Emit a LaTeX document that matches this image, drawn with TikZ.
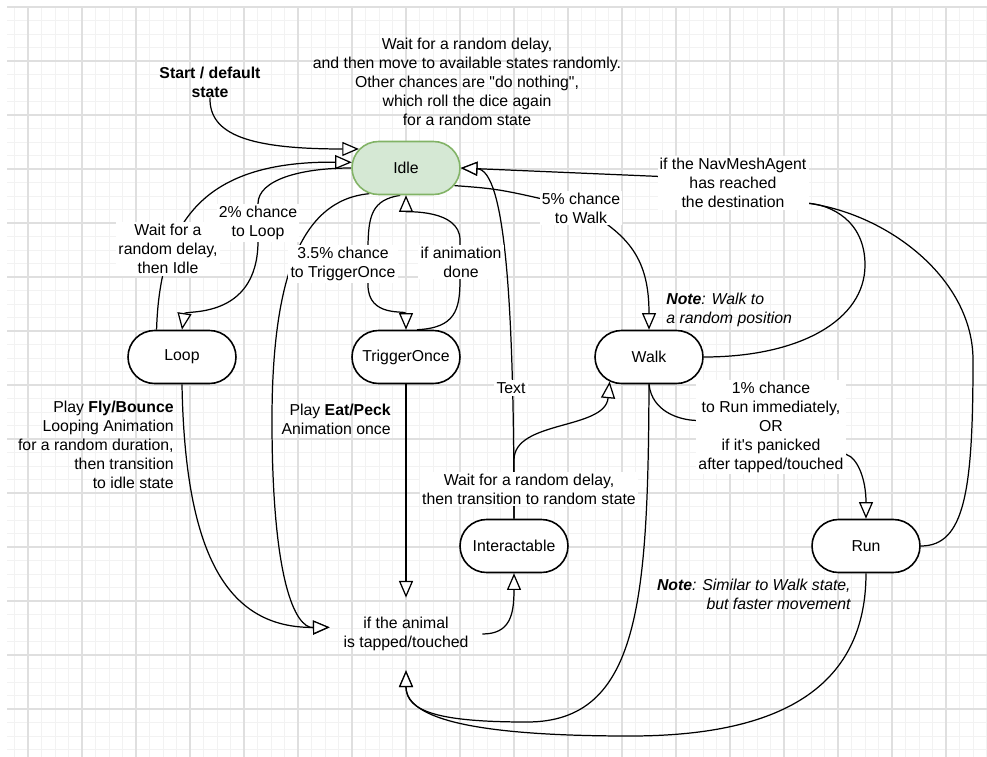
\documentclass[tikz,border=0pt]{standalone}
\usepackage{fontspec}
\setmainfont{Liberation Sans}
\usetikzlibrary{arrows.meta,shapes.misc}
\pgfdeclarelayer{gridlayer}
\pgfdeclarelayer{edgelayer}
\pgfsetlayers{gridlayer,edgelayer,main}
\definecolor{idlefill}{HTML}{D5E8D4}
\definecolor{idleline}{HTML}{82B366}
\tikzset{
  statebox/.style={rounded rectangle,draw=black,line width=0.9pt,fill=white,
    minimum width=2.16cm,minimum height=1.06cm,inner sep=0pt},
  idlebox/.style={statebox,fill=idlefill,draw=idleline},
  lbl/.style={fill=white,inner sep=1.2pt,align=center},
  txt/.style={inner sep=0pt},
  trans/.style={line width=0.7pt,-{Triangle[length=9.5pt,width=8pt,fill=white]}},
  plain/.style={line width=0.7pt},
  gridminor/.style={gray!10,line width=0.5pt},
  gridmajor/.style={gray!25,line width=0.6pt},
}
\newcommand{\smallfont}{\fontsize{9}{10.8}\selectfont}
\begin{document}
\begin{tikzpicture}[x=0.02cm,y=-0.02cm,every node/.style={font=\smallfont}]
\useasboundingbox (0,0) rectangle (987,757);
\begin{pgfonlayer}{gridlayer}
\fill[white] (0,0) rectangle (987,757);
\foreach \i in {1,...,73} \draw[gridminor] ({1+13.5*\i},7) -- ({1+13.5*\i},757);
\foreach \j in {0,...,55} \draw[gridminor] (7,{7+13.5*\j}) -- (987,{7+13.5*\j});
\foreach \i in {0,...,17} \draw[gridmajor] ({28+54*\i},7) -- ({28+54*\i},757);
\foreach \j in {0,...,13} \draw[gridmajor] (7,{7+54*\j}) -- (987,{7+54*\j});
\end{pgfonlayer}

\node[idlebox] (idle) at (406,168) {Idle};
\node[statebox] (loop) at (182,357) {Loop};
\node[statebox] (trig) at (406,357) {TriggerOnce};
\node[statebox] (walk) at (649,357) {Walk};
\node[statebox] (inter) at (514,546) {Interactable};
\node[statebox] (run) at (866,546) {Run};
\node[txt,align=center,minimum width=3.04cm,minimum height=1.44cm] (tap) at (406,634) {if the animal\\is tapped/touched};

\node[txt,align=center,font=\smallfont\bfseries] (start) at (210,82) {Start / default\\state};
\node[txt,align=center] (idlenote) at (467,82) {Wait for a random delay,\\and then move to available states randomly.\\Other chances are \textquotedbl do nothing\textquotedbl,\\which roll the dice again\\for a random state};
\node[txt,anchor=west,align=left,font=\smallfont\itshape] (walknote) at (666,310) {\textbf{Note}: Walk to\\a random position};
\node[txt,anchor=east,align=right] (flynote) at (174,445) {Play \textbf{Fly/Bounce}\\Looping Animation\\for a random duration,\\then transition\\to idle state};
\node[txt,anchor=east,align=right] (eatnote) at (391,419) {Play \textbf{Eat/Peck}\\Animation once};
\node[txt,anchor=east,align=right,font=\smallfont\itshape] (runnote) at (851,594) {\textbf{Note}: Similar to Walk state,\\but faster movement};

\node[lbl] (lblwait) at (168,249) {Wait for a\\random delay,\\then Idle};
\node[lbl] (lbltwo) at (258,223) {2\% chance\\to Loop};
\node[lbl] (lbltrig) at (343,264) {3.5\% chance\\to TriggerOnce};
\node[lbl] (lbldone) at (461,262) {if animation\\done};
\node[lbl] (lblfive) at (581,208) {5\% chance\\to Walk};
\node[lbl] (lblnav) at (733,183) {if the NavMeshAgent\\has reached\\the destination};
\node[lbl] (lbltext) at (511,388) {Text};
\node[lbl] (lblrand) at (529,489) {Wait for a random delay,\\then transition to random state};
\node[lbl] (lblone) at (771,427) {1\% chance\\to Run immediately,\\OR\\if it\textquotesingle s panicked\\after tapped/touched};

\begin{pgfonlayer}{edgelayer}
\draw[trans] (start.south) .. controls (209,135) and (250,149) .. (idle.158);
\draw[trans] (loop.133) .. controls (160,215) and (210,161) .. (idle.174);
\draw[trans] (idle.west) .. controls (300,168) and (258,180) .. (lbltwo.north) -- (lbltwo.south) .. controls (257,320) and (185,310) .. (loop.north);
\draw[trans] (idle.258) .. controls (372,200) and (368,215) .. (368,250) -- (368,285) .. controls (368,318) and (406,310) .. (trig.north);
\draw[trans] (trig.68) .. controls (455,328) and (460,310) .. (460,280) -- (460,240) .. controls (460,209) and (406,212) .. (idle.south);
\draw[trans] (idle.215) .. controls (300,200) and (272,280) .. (272,420) .. controls (272,580) and (295,628) .. (tap.175);
\draw[trans] (loop.south) .. controls (185,560) and (230,628) .. (tap.175);
\draw[trans] (trig.south) -- (tap.north);
\draw[trans] (tap.east) .. controls (510,634) and (514,615) .. (inter.south);
\draw[trans] (inter.north) -- (514,460) .. controls (514,420) and (605,430) .. (walk.212);
\draw[trans] (inter.north) .. controls (514,300) and (505,170) .. (idle.east);
\draw[trans] (walk.east) .. controls (800,357) and (865,320) .. (865,265) .. controls (865,220) and (830,205) .. (lblnav.-15) -- (lblnav.175) -- (idle.east);
\draw[plain] (run.east) .. controls (965,546) and (973,490) .. (973,360) .. controls (973,280) and (890,215) .. (lblnav.-15);
\draw[trans] (idle.-20) .. controls (500,189) .. (lblfive.center) .. controls (630,235) and (649,260) .. (walk.north);
\draw[trans] (walk.south) .. controls (652,412) and (680,420) .. (lblone.175) -- (lblone.-20) .. controls (858,458) and (866,480) .. (run.north);
\draw[trans] (walk.south) .. controls (648,600) and (640,722) .. (527,722) .. controls (440,722) and (406,712) .. (tap.south);
\draw[trans] (run.south) .. controls (866,700) and (760,736) .. (630,736) .. controls (480,736) and (406,720) .. (tap.south);
\end{pgfonlayer}
\end{tikzpicture}
\end{document}
